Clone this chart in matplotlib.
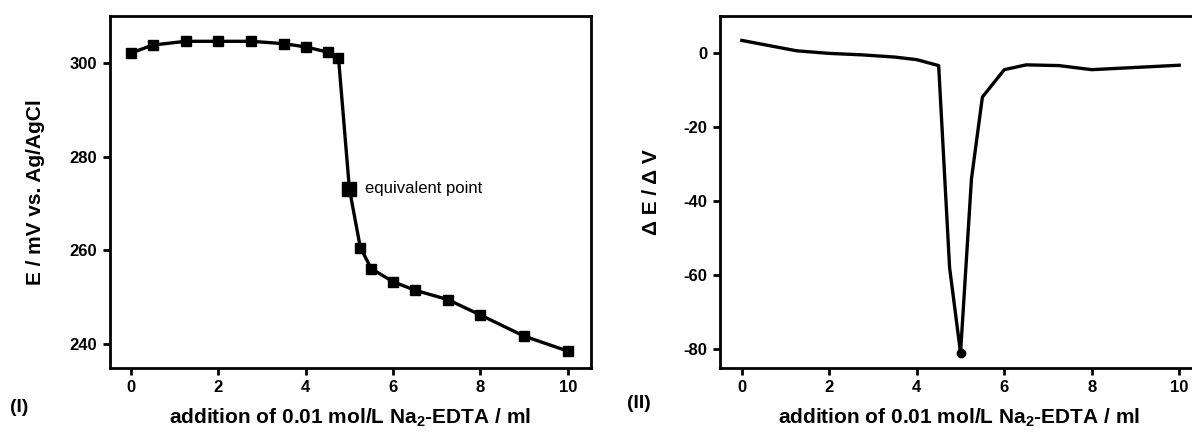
import matplotlib
matplotlib.use("Agg")
import matplotlib.pyplot as plt

plt.rcParams['font.family'] = ['Liberation Sans', 'DejaVu Sans']
plt.rcParams['mathtext.fontset'] = 'custom'
plt.rcParams['mathtext.rm'] = 'Liberation Sans'
plt.rcParams['mathtext.bf'] = 'Liberation Sans:bold'
plt.rcParams['axes.unicode_minus'] = False

# Titration curve (I)
vol = [0, 0.5, 1.25, 2, 2.75, 3.5, 4, 4.5, 4.75, 5, 5.25, 5.5, 6, 6.5, 7.25, 8, 9, 10]
E = [302.1, 303.8, 304.6, 304.6, 304.6, 304.1, 303.4, 302.3, 301.1, 273.1,
     260.6, 256.1, 253.3, 251.5, 249.5, 246.2, 241.7, 238.5]
eq_vol = 5
eq_E = 273.1

# Derivative curve (II)
vol_d = [0, 1.25, 2, 2.75, 3.5, 4, 4.5, 4.75, 5, 5.25, 5.5, 6, 6.5, 7.25, 8, 9, 10]
dEdV = [3.4, 0.6, -0.1, -0.5, -1.1, -1.8, -3.4, -58, -81, -34, -11.9,
        -4.5, -3.2, -3.4, -4.5, -3.9, -3.3]
min_vol = 5
min_d = -81

xlabel = r'addition of 0.01 mol/L Na$_\mathbf{2}$-EDTA / ml'

W, H = 1192, 432
fig = plt.figure(figsize=(W / 100, H / 100), dpi=100)

def px_axes(l, r, t, b):
    return fig.add_axes([l / W, 1 - b / H, (r - l) / W, (b - t) / H])

def style(ax):
    for s in ax.spines.values():
        s.set_linewidth(2.0)
    ax.tick_params(direction='out', length=5, width=2, labelsize=12, pad=4,
                   top=False, right=False)
    for lab in ax.get_xticklabels() + ax.get_yticklabels():
        lab.set_fontweight('bold')

ax1 = px_axes(110, 591, 16, 368)
ax1.plot(vol, E, color='black', lw=2.4, marker='s', ms=6.5, zorder=3)
ax1.plot([eq_vol], [eq_E], color='black', marker='s', ms=9.5, ls='none', zorder=4)
ax1.text(5.35, eq_E, 'equivalent point', fontsize=12, va='center', ha='left')
ax1.set_xlim(-0.48, 10.53)
ax1.set_ylim(234.9, 310.0)
ax1.set_xticks([0, 2, 4, 6, 8, 10])
ax1.set_yticks([240, 260, 280, 300])
ax1.set_xlabel(xlabel, fontsize=15, fontweight='bold', labelpad=8)
ax1.set_ylabel('E / mV vs. Ag/AgCl', fontsize=15, fontweight='bold', labelpad=18)
style(ax1)

ax2 = px_axes(720, 1198, 16, 368)
ax2.plot(vol_d, dEdV, color='black', lw=2.4, zorder=3)
ax2.plot([min_vol], [min_d], color='black', marker='o', ms=6, ls='none', zorder=4)
ax2.set_xlim(-0.50, 10.43)
ax2.set_ylim(-85.1, 10.0)
ax2.set_xticks([0, 2, 4, 6, 8, 10])
ax2.set_yticks([-80, -60, -40, -20, 0])
ax2.set_xlabel(xlabel, fontsize=15, fontweight='bold', labelpad=8)
ax2.set_ylabel('Δ E / Δ V', fontsize=15, fontweight='bold', labelpad=16)
style(ax2)

fig.text(10 / W, 1 - 407 / H, '(I)', fontsize=14, fontweight='bold', va='center', ha='left')
fig.text(627 / W, 1 - 403 / H, '(II)', fontsize=14, fontweight='bold', va='center', ha='left')

fig.savefig('out.png', dpi=100)
